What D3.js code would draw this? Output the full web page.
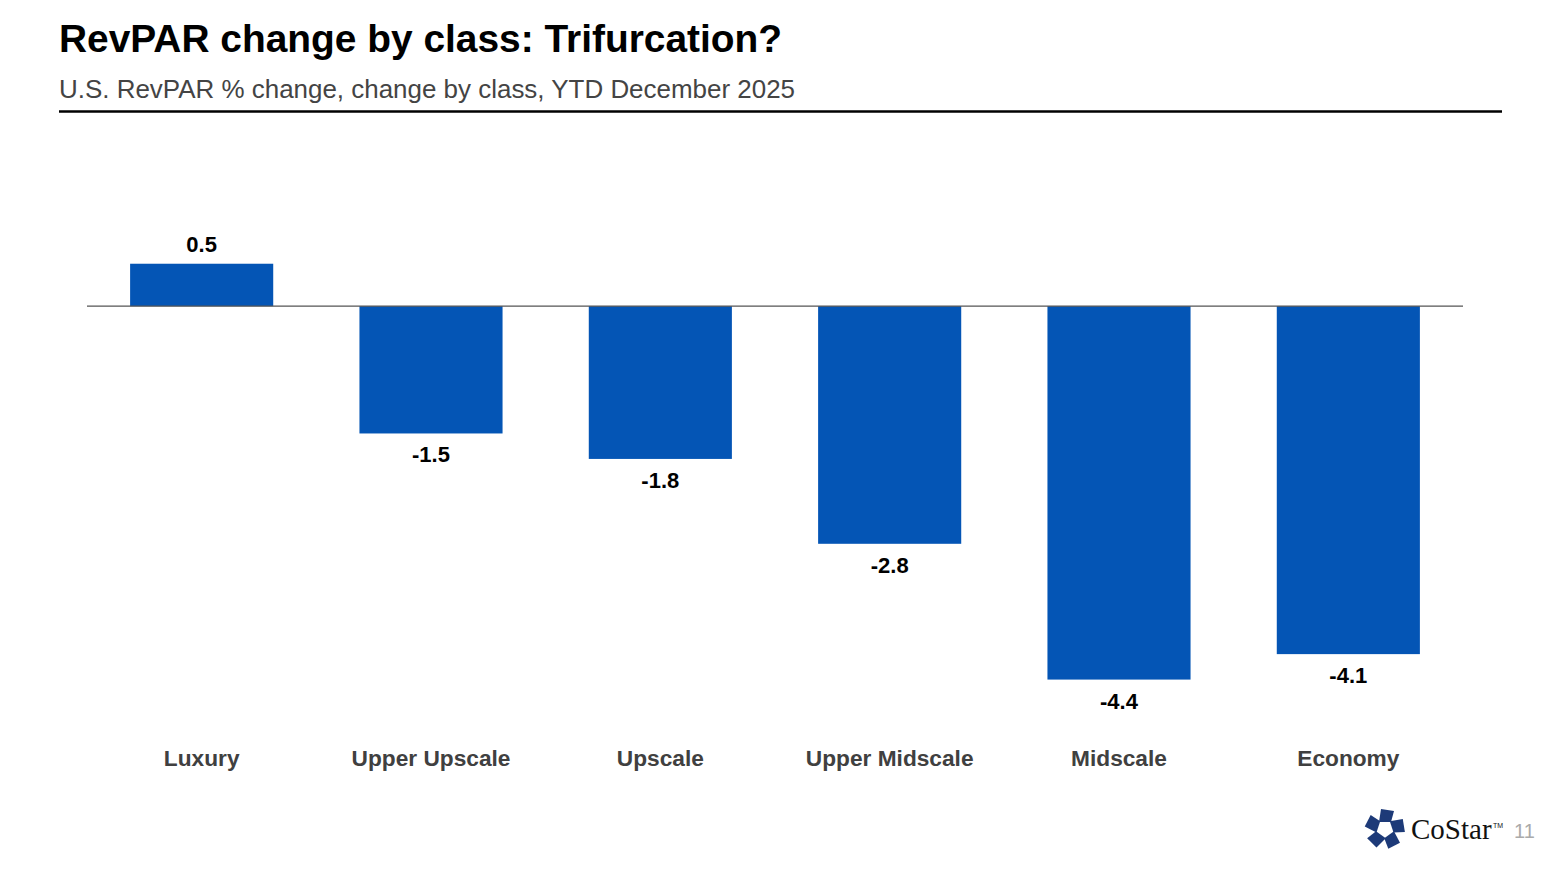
<!DOCTYPE html>
<html>
<head>
<meta charset="utf-8">
<script src="https://cdn.jsdelivr.net/npm/d3@7"></script>
<style>
  body { margin: 0; background: #fff; }
  svg { font-family: "Liberation Sans", Arial, sans-serif; }
</style>
</head>
<body>
<div id="chart"></div>
<script>
const categories = ["Luxury", "Upper Upscale", "Upscale", "Upper Midscale", "Midscale", "Economy"];
const values = [0.5, -1.5, -1.8, -2.8, -4.4, -4.1];

const W = 1560, H = 877;
const svg = d3.select("#chart").append("svg")
	.attr("width", W)
	.attr("height", H);

// title block
svg.append("text")
	.attr("x", 59).attr("y", 52)
	.attr("font-size", 39).attr("font-weight", "bold").attr("fill", "#000")
	.attr("textLength", 723).attr("lengthAdjust", "spacingAndGlyphs")
	.text("RevPAR change by class: Trifurcation?");
svg.append("text")
	.attr("x", 59).attr("y", 98)
	.attr("font-size", 26).attr("fill", "#444")
	.attr("textLength", 736).attr("lengthAdjust", "spacingAndGlyphs")
	.text("U.S. RevPAR % change, change by class, YTD December 2025");
svg.append("line")
	.attr("x1", 59).attr("x2", 1502).attr("y1", 111.5).attr("y2", 111.5)
	.attr("stroke", "#000").attr("stroke-width", 2.5);

// scales
const x = d3.scaleBand()
	.domain(categories)
	.range([87, 1463])
	.paddingInner(0.376)
	.paddingOuter(0.188);

const y = d3.scaleLinear()
	.domain([1, -5])
	.range([221.3, 730.5]);

// bars
svg.selectAll("rect.bar")
	.data(values)
	.join("rect")
		.attr("class", "bar")
		.attr("x", (d, i) => x(categories[i]))
		.attr("width", x.bandwidth())
		.attr("y", d => y(Math.max(0, d)))
		.attr("height", d => Math.abs(y(d) - y(0)))
		.attr("fill", "#0455b5");

// zero line
svg.append("line")
	.attr("x1", 87).attr("x2", 1463)
	.attr("y1", y(0)).attr("y2", y(0))
	.attr("stroke", "#555").attr("stroke-width", 1.2);

// value labels
svg.selectAll("text.val")
	.data(values)
	.join("text")
		.attr("class", "val")
		.attr("x", (d, i) => x(categories[i]) + x.bandwidth() / 2)
		.attr("y", d => d >= 0 ? y(d) - 12 : y(d) + 29)
		.attr("text-anchor", "middle")
		.attr("font-size", 22).attr("font-weight", "bold").attr("fill", "#000")
		.text(d => d.toFixed(1));

// category axis labels
const xAxis = svg.append("g")
	.attr("transform", "translate(0,758)")
	.call(d3.axisBottom(x).tickSize(0).tickPadding(0));
xAxis.select(".domain").remove();
xAxis.selectAll("text")
	.attr("dy", "0.35em")
	.attr("font-size", 22.7).attr("font-weight", "bold").attr("fill", "#404040")
	.attr("font-family", "Liberation Sans, Arial, sans-serif");

// logo
const logo = svg.append("g").attr("transform", "translate(1385,829)");
for (let k = 0; k < 5; k++) {
	logo.append("path")
		.attr("d", "M-6,-7 L6,-7 L9,-18 L-4,-20 Z")
		.attr("fill", "#1d3a78")
		.attr("transform", `rotate(${k * 72})`);
}
svg.append("text")
	.attr("x", 1411).attr("y", 839)
	.attr("font-family", "Liberation Serif, Times New Roman, serif")
	.attr("font-size", 29).attr("fill", "#111")
	.text("CoStar");
svg.append("text")
	.attr("x", 1493).attr("y", 828)
	.attr("font-size", 7).attr("fill", "#111")
	.text("TM");
svg.append("text")
	.attr("x", 1514).attr("y", 838)
	.attr("font-size", 20).attr("fill", "#aaa")
	.text("11");
</script>
</body>
</html>
